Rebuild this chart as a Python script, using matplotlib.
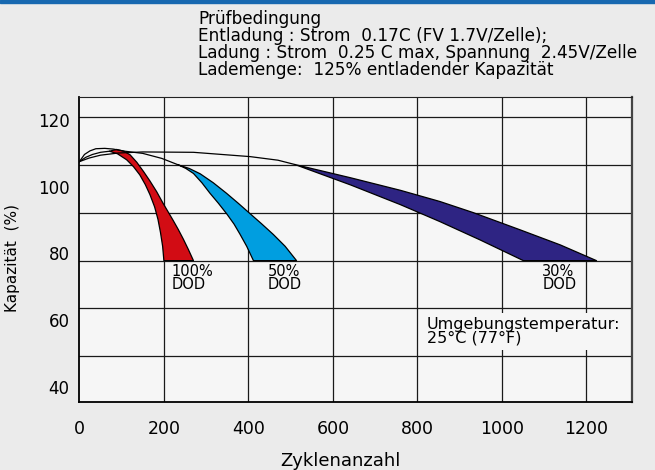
import matplotlib
matplotlib.use("Agg")
import matplotlib.pyplot as plt
from matplotlib.patches import Rectangle

plt.rcParams['font.family'] = ['DejaVu Sans']

# ---------------- data ----------------
# Zyklen / Kapazität (%) ; the 80 % gridline is the end-of-life line
# thin envelope lines from the start point
line_top_x = [0, 12, 25, 39, 60, 80, 108, 150, 195, 234]
line_top_y = [107.6, 109.6, 110.6, 111.2, 111.3, 111.1, 110.5, 109.9, 108.5, 106.7]
line_mid_x = [0, 15, 31, 50, 71]
line_mid_y = [107.6, 108.8, 109.6, 110.2, 110.5]
line_low_x = [0, 23, 50, 92, 150, 270, 404, 470, 510]
line_low_y = [107.6, 108.6, 109.4, 110.0, 110.3, 110.2, 109.0, 108.0, 106.8]

# 100 % DOD band
dod100_left_x = [71, 90, 112, 128, 143, 156, 167, 178, 186, 192, 197, 200]
dod100_left_y = [110.5, 109.8, 108.1, 106.2, 103.9, 101.2, 98.4, 95.0, 91.5, 87.8, 84.0, 80]
dod100_right_x = [88, 105, 120, 136, 152, 167, 183, 198, 210, 222, 234, 246, 258, 270]
dod100_right_y = [111.0, 110.5, 109.5, 107.4, 104.8, 102.2, 99.2, 96.0, 93.6, 91.2, 88.7, 86.0, 83.1, 80]

# 50 % DOD band
dod50_left_x = [234, 252, 270, 290, 309, 329, 349, 366, 380, 396, 412]
dod50_left_y = [106.7, 105.7, 104.3, 101.7, 98.8, 96.0, 93.0, 90.2, 87.4, 84.0, 80]
dod50_right_x = [234, 260, 286, 317, 348, 376, 403, 431, 459, 487, 514]
dod50_right_y = [106.7, 105.7, 104.2, 101.7, 98.8, 96.0, 93.2, 90.3, 87.3, 84.0, 80]

# 30 % DOD band
dod30_upper_x = [510, 642, 760, 853, 932, 1043, 1138, 1224]
dod30_upper_y = [106.8, 103.1, 99.6, 96.5, 93.4, 88.6, 84.4, 80]
dod30_lower_x = [510, 642, 760, 853, 948, 1051]
dod30_lower_y = [106.8, 101.1, 95.6, 90.9, 85.8, 80]

x_ticks = [0, 200, 400, 600, 800, 1000, 1200]
x_ticklabels = ["0", "200", "400", "600", "800", "1000", "1200"]
y_ticklabels = ["120", "100", "80", "60", "40"]
y_tick_pos = [119.3, 100.6, 82.1, 63.5, 44.9]
y_grid = [120, 106.67, 93.33, 80, 66.67, 53.33]

header = ("Prüfbedingung\n"
          "Entladung : Strom  0.17C (FV 1.7V/Zelle);\n"
          "Ladung : Strom  0.25 C max, Spannung  2.45V/Zelle\n"
          "Lademenge:  125% entladender Kapazität")

# ---------------- figure ----------------
fig = plt.figure(figsize=(6.55, 4.70), dpi=100, facecolor='#ebebeb')
fig.patches.append(Rectangle((0, 1 - 3/470), 1, 3/470, transform=fig.transFigure,
                             color='#1768b0', zorder=5))
ax = fig.add_axes([79.4/655, 1 - 402/470, (632 - 79.4)/655, (402 - 96.7)/470])
ax.set_facecolor('#f6f6f6')
ax.set_xlim(0, 1308)
ax.set_ylim(40.6, 125.7)

for xv in x_ticks[1:]:
    ax.axvline(xv, color='#1a1a1a', lw=0.9, zorder=1)
for yv in y_grid:
    ax.axhline(yv, color='#1a1a1a', lw=0.9, zorder=1)

def band(lx, ly, rx, ry, color):
    xs = list(lx) + list(rx)[::-1]
    ys = list(ly) + list(ry)[::-1]
    ax.fill(xs, ys, facecolor=color, edgecolor='black', lw=0.9, zorder=3,
            joinstyle='round')

band(dod100_left_x, dod100_left_y, dod100_right_x, dod100_right_y, '#d20c14')
band(dod50_left_x, dod50_left_y, dod50_right_x, dod50_right_y, '#009ee0')
band(dod30_lower_x, dod30_lower_y, dod30_upper_x, dod30_upper_y, '#2e2483')

for lx, ly in [(line_top_x, line_top_y), (line_mid_x, line_mid_y), (line_low_x, line_low_y)]:
    ax.plot(lx, ly, color='black', lw=0.9, zorder=4)

ax.set_xticks(x_ticks)
ax.set_xticklabels(x_ticklabels, fontsize=12.5)
ax.set_yticks(y_tick_pos)
ax.set_yticklabels(y_ticklabels, fontsize=12)
ax.tick_params(length=0, pad=7)
ax.tick_params(axis='x', pad=13)

for s in ['left', 'bottom']:
    ax.spines[s].set_linewidth(1.3)
    ax.spines[s].set_color('black')
ax.spines['right'].set_linewidth(1.6)
ax.spines['right'].set_color('#444444')
ax.spines['top'].set_linewidth(0.8)
ax.spines['top'].set_color('#222222')

fig.text(340/655, 1 - 461/470, "Zyklenanzahl", fontsize=13, ha='center', va='center')
fig.text(13/655, 1 - 258/470, "Kapazität  (%)", rotation=90, fontsize=11,
         ha='center', va='center')

for xv, txt in [(218, "100%\nDOD"), (445, "50%\nDOD"), (1096, "30%\nDOD")]:
    ax.text(xv, 75.1, txt, fontsize=10.5, ha='left', va='center', linespacing=0.85, zorder=6)

ax.add_patch(Rectangle((811, 55.1), 497, 10.3, facecolor='#f6f6f6', edgecolor='none', zorder=2))
ax.text(822, 60.3, "Umgebungstemperatur:\n25°C (77°F)", fontsize=11.5, ha='left', va='center',
        linespacing=0.9, zorder=6)

fig.text(198/655, 1 - 10/470, header, fontsize=12.2, ha='left', va='top', linespacing=0.92)

fig.savefig("out.png", dpi=100, facecolor=fig.get_facecolor())
